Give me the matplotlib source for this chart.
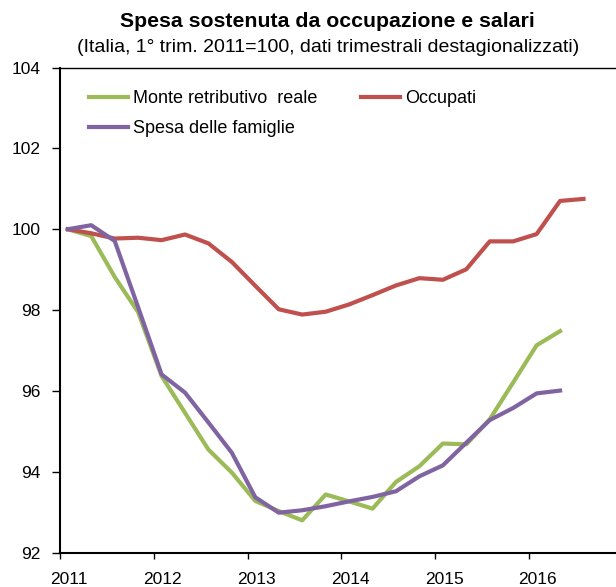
import numpy as np
import matplotlib
matplotlib.use("Agg")
import matplotlib.pyplot as plt
import matplotlib.transforms as mtransforms

plt.rcParams["font.family"] = ["Liberation Sans", "DejaVu Sans"]

# quarterly points, plotted at the second month of each quarter
start_year = 2011
occupati = [100.0, 99.9, 99.77, 99.79, 99.73, 99.87, 99.65, 99.19, 98.6, 98.02,
            97.89, 97.96, 98.14, 98.37, 98.61, 98.79, 98.75, 99.01, 99.7, 99.7,
            99.88, 100.7, 100.75]
monte_retr = [100.0, 99.83, 98.82, 97.95, 96.37, 95.46, 94.55, 93.98, 93.28, 93.03,
              92.8, 93.44, 93.27, 93.09, 93.75, 94.14, 94.7, 94.68, 95.3, 96.21,
              97.13, 97.48]
spesa_fam = [100.0, 100.1, 99.71, 98.07, 96.41, 95.96, 95.22, 94.47, 93.37, 92.99,
             93.05, 93.15, 93.27, 93.38, 93.52, 93.89, 94.16, 94.72, 95.28, 95.58,
             95.94, 96.01]
years = [2011, 2012, 2013, 2014, 2015, 2016]
yticks = [92, 94, 96, 98, 100, 102, 104]

green = "#9BBB59"
red = "#C0504D"
purple = "#8064A2"


def qpos(n):
    return start_year + 1 / 12 + 0.25 * np.arange(n)


fig = plt.figure(figsize=(6.16, 5.87), dpi=100)
ax = fig.add_axes([0.0974, 0.0584, 0.9026, 0.8266])

l1, = ax.plot(qpos(len(monte_retr)), monte_retr, color=green, lw=3, label="Monte retributivo  reale")
l3, = ax.plot(qpos(len(spesa_fam)), spesa_fam, color=purple, lw=3, label="Spesa delle famiglie")
l2, = ax.plot(qpos(len(occupati)), occupati, color=red, lw=3, label="Occupati")
l3.set_zorder(3)

ax.set_xlim(2011, 2016.93)
ax.set_ylim(92, 104)
ax.set_xticks(years)
ax.set_xticklabels([str(y) for y in years])
ax.set_yticks(yticks)
ax.tick_params(axis="both", direction="out", width=1, labelsize=12.5, colors="black")
ax.tick_params(axis="x", length=4, pad=10)
ax.tick_params(axis="y", length=6, pad=8)
# year labels sit a bit to the right of their tick
shift = mtransforms.ScaledTranslation(0.09, 0, fig.dpi_scale_trans)
for lab in ax.get_xticklabels():
    lab.set_transform(lab.get_transform() + shift)

ax.spines["right"].set_visible(False)
ax.spines["left"].set_linewidth(1.5)
ax.spines["bottom"].set_linewidth(1.5)
ax.spines["top"].set_linewidth(1.0)

ax.legend(handles=[l1, l3, l2], ncol=2, frameon=False, fontsize=13,
          loc="upper left", bbox_to_anchor=(89 / 616, 1 - 90 / 587),
          bbox_transform=fig.transFigure, borderpad=0, borderaxespad=0,
          handlelength=2.16, handletextpad=0.28, columnspacing=2.4, labelspacing=0.73)

fig.text(0.532, 0.954, "Spesa sostenuta da occupazione e salari", ha="center", va="baseline",
         fontsize=15.3, fontweight="bold")
fig.text(0.532, 0.911, "(Italia, 1° trim. 2011=100, dati trimestrali destagionalizzati)",
         ha="center", va="baseline", fontsize=14)

fig.savefig("out.png", dpi=100)
